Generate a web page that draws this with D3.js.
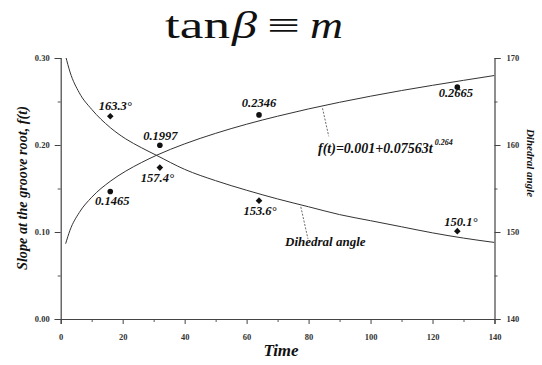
<!DOCTYPE html>
<html>
<head>
<meta charset="utf-8">
<script src="https://cdn.jsdelivr.net/npm/d3@7/dist/d3.min.js"></script>
<style>
  html, body { margin: 0; padding: 0; background: #fff; }
  svg { display: block; }
</style>
</head>
<body>
<svg id="chart" width="542" height="365"></svg>
<script>
// Sampling times (growth time) and fitted slope f(t) = 0.001 + 0.07563 t^0.264
const curveTime  = [1.6, 3, 6, 10, 16, 21, 26, 31, 40, 50, 60, 70, 80, 90, 100, 110, 120, 130, 140];
const slopeCurve = [0.0866, 0.102, 0.1224, 0.1399, 0.1583, 0.1700, 0.1797, 0.1883, 0.2013, 0.2134,
                    0.2239, 0.2331, 0.2415, 0.2491, 0.2561, 0.2626, 0.2686, 0.2743, 0.2799];
// Dihedral angle curve (degrees) at the same times
const angleCurve = [170.2, 168.4, 166.0, 164.1, 162.0, 160.7, 159.7, 158.8, 157.2, 155.9,
                    154.8, 153.8, 152.9, 152.0, 151.3, 150.6, 149.9, 149.3, 148.8];

// Measured points
const pointTime  = [16, 32, 64, 128];
const slopePts   = [0.1465, 0.1997, 0.2346, 0.2665];
const anglePts   = [163.3, 157.4, 153.6, 150.1];

// Axis ticks
const timeTicks  = [0, 20, 40, 60, 80, 100, 120, 140];
const slopeTicks = [0.00, 0.10, 0.20, 0.30];
const angleTicks = [140, 150, 160, 170];

const SERIF = "'Liberation Serif'";

const svg = d3.select("#chart");
const L = 60.7, R = 494.5, T = 58, B = 319;

const x = d3.scaleLinear().domain([0, 140]).range([L, R]);
const yL = d3.scaleLinear().domain([0, 0.30]).range([B, T]);
const yR = d3.scaleLinear().domain([140, 170]).range([B, T]);

function serif(sel, size, bold, italic) {
  return sel.style("font-family", SERIF).style("font-size", size + "px")
    .style("font-weight", bold ? "bold" : "normal")
    .style("font-style", italic ? "italic" : "normal")
    .style("fill", "#111");
}

// Title: tan β ≡ m, each piece set to its own width
const titleParts = [
  { s: "tan", x: 165, w: 65, it: false },
  { s: "β",   x: 232, w: 25, it: true },
  { s: "≡",   x: 267, w: 33, it: false },
  { s: "m",   x: 310, w: 33, it: true }
];
titleParts.forEach(p => {
  serif(svg.append("text"), 38, false, p.it)
    .attr("x", p.x).attr("y", 38)
    .attr("textLength", p.w).attr("lengthAdjust", "spacingAndGlyphs")
    .text(p.s);
});

// Axes
function styleAxis(g) {
  g.attr("font-family", null).attr("font-size", null);
  g.select(".domain").attr("stroke", "#444").attr("stroke-width", 1.2);
  g.selectAll(".tick line").attr("stroke", "#444").attr("stroke-width", 1);
  serif(g.selectAll(".tick text"), 8.5, true, false).style("fill", "#333");
}

const xMinor = d3.range(10, 140, 20);
svg.append("g").attr("transform", `translate(0,${B})`)
  .call(d3.axisBottom(x).tickValues(xMinor).tickSize(3).tickFormat(""))
  .call(g => g.select(".domain").remove())
  .selectAll("line").attr("stroke", "#555");
svg.append("g").attr("transform", `translate(0,${B})`)
  .call(d3.axisBottom(x).tickValues(timeTicks).tickSize(5).tickPadding(10).tickFormat(d3.format("d")))
  .call(styleAxis);

svg.append("g").attr("transform", `translate(${L},0)`)
  .call(d3.axisLeft(yL).tickValues([0.05, 0.15, 0.25]).tickSize(3).tickFormat(""))
  .call(g => g.select(".domain").remove())
  .selectAll("line").attr("stroke", "#555");
svg.append("g").attr("transform", `translate(${L},0)`)
  .call(d3.axisLeft(yL).tickValues(slopeTicks).tickSize(6).tickPadding(5).tickFormat(d3.format(".2f")))
  .call(styleAxis);

svg.append("g").attr("transform", `translate(${R},0)`)
  .call(d3.axisRight(yR).tickValues([145, 155, 165]).tickSize(3).tickFormat(""))
  .call(g => g.select(".domain").remove())
  .selectAll("line").attr("stroke", "#555");
svg.append("g").attr("transform", `translate(${R},0)`)
  .call(d3.axisRight(yR).tickValues(angleTicks).tickSize(6).tickPadding(6).tickFormat(d3.format("d")))
  .call(styleAxis);

// Axis titles
serif(svg.append("text"), 14.2, true, true)
  .attr("transform", "translate(27,188) rotate(-90)")
  .attr("text-anchor", "middle")
  .text("Slope at the groove root, f(t)");

serif(svg.append("text"), 11, true, true)
  .attr("transform", "translate(527,163) rotate(90)")
  .attr("text-anchor", "middle")
  .text("Dihedral angle");

serif(svg.append("text"), 17, true, true)
  .attr("x", 281).attr("y", 356)
  .attr("text-anchor", "middle")
  .text("Time");

// Curves, clipped to the plot area
svg.append("clipPath").attr("id", "plot-clip")
  .append("rect").attr("x", L).attr("y", T).attr("width", R - L).attr("height", B - T);

const slopeLine = d3.line().curve(d3.curveMonotoneX)
  .x((d, i) => x(curveTime[i])).y(d => yL(d));
const angleLine = d3.line().curve(d3.curveMonotoneX)
  .x((d, i) => x(curveTime[i])).y(d => yR(d));

const curves = svg.append("g").attr("clip-path", "url(#plot-clip)");
curves.append("path").attr("d", slopeLine(slopeCurve))
  .attr("fill", "none").attr("stroke", "#333").attr("stroke-width", 1);
curves.append("path").attr("d", angleLine(angleCurve))
  .attr("fill", "none").attr("stroke", "#333").attr("stroke-width", 1);

// Measured points
svg.append("g").selectAll("circle").data(slopePts).join("circle")
  .attr("cx", (d, i) => x(pointTime[i])).attr("cy", d => yL(d))
  .attr("r", 2.8).attr("fill", "#111");
svg.append("g").selectAll("path").data(anglePts).join("path")
  .attr("transform", (d, i) => `translate(${x(pointTime[i])},${yR(d)}) rotate(45)`)
  .attr("d", d3.symbol(d3.symbolSquare, 22)).attr("fill", "#111");

// Value labels: offsets relative to each point
const slopeLabelOffset = [[2, 13.5], [0.5, -5], [0, -8], [-1.5, 10]];
const angleLabelOffset = [[5, -6.5], [-2.5, 14.5], [1, 14.5], [3.5, -5.5]];
serif(svg.append("g").selectAll("text").data(slopePts).join("text"), 12.5, true, true)
  .attr("text-anchor", "middle")
  .attr("x", (d, i) => x(pointTime[i]) + slopeLabelOffset[i][0])
  .attr("y", (d, i) => yL(d) + slopeLabelOffset[i][1])
  .text(d => d3.format(".4f")(d));
serif(svg.append("g").selectAll("text").data(anglePts).join("text"), 12.5, true, true)
  .attr("text-anchor", "middle")
  .attr("x", (d, i) => x(pointTime[i]) + angleLabelOffset[i][0])
  .attr("y", (d, i) => yR(d) + angleLabelOffset[i][1])
  .text(d => d3.format(".1f")(d) + "°");

// Curve annotations with dashed leaders
const leaders = svg.append("g").attr("stroke", "#444").attr("stroke-width", 0.8)
  .attr("stroke-dasharray", "2,1.5").attr("fill", "none");
leaders.append("path").attr("d", `M${x(84.5)},${yL(0.2445) + 2} L${x(86.5)},${yL(0.2445) + 30}`);
leaders.append("path").attr("d", `M${x(77.5)},${yR(153.0) + 1} L${x(79.8)},${yR(153.0) + 33}`);

const fLabel = serif(svg.append("text"), 14, true, true).attr("x", 318).attr("y", 153);
fLabel.append("tspan").text("f(t)=0.001+0.07563t");
fLabel.append("tspan").attr("dy", -8).style("font-size", "8px").text(" 0.264");

serif(svg.append("text"), 13, true, true).attr("x", 285).attr("y", 246).text("Dihedral angle");
</script>
</body>
</html>
